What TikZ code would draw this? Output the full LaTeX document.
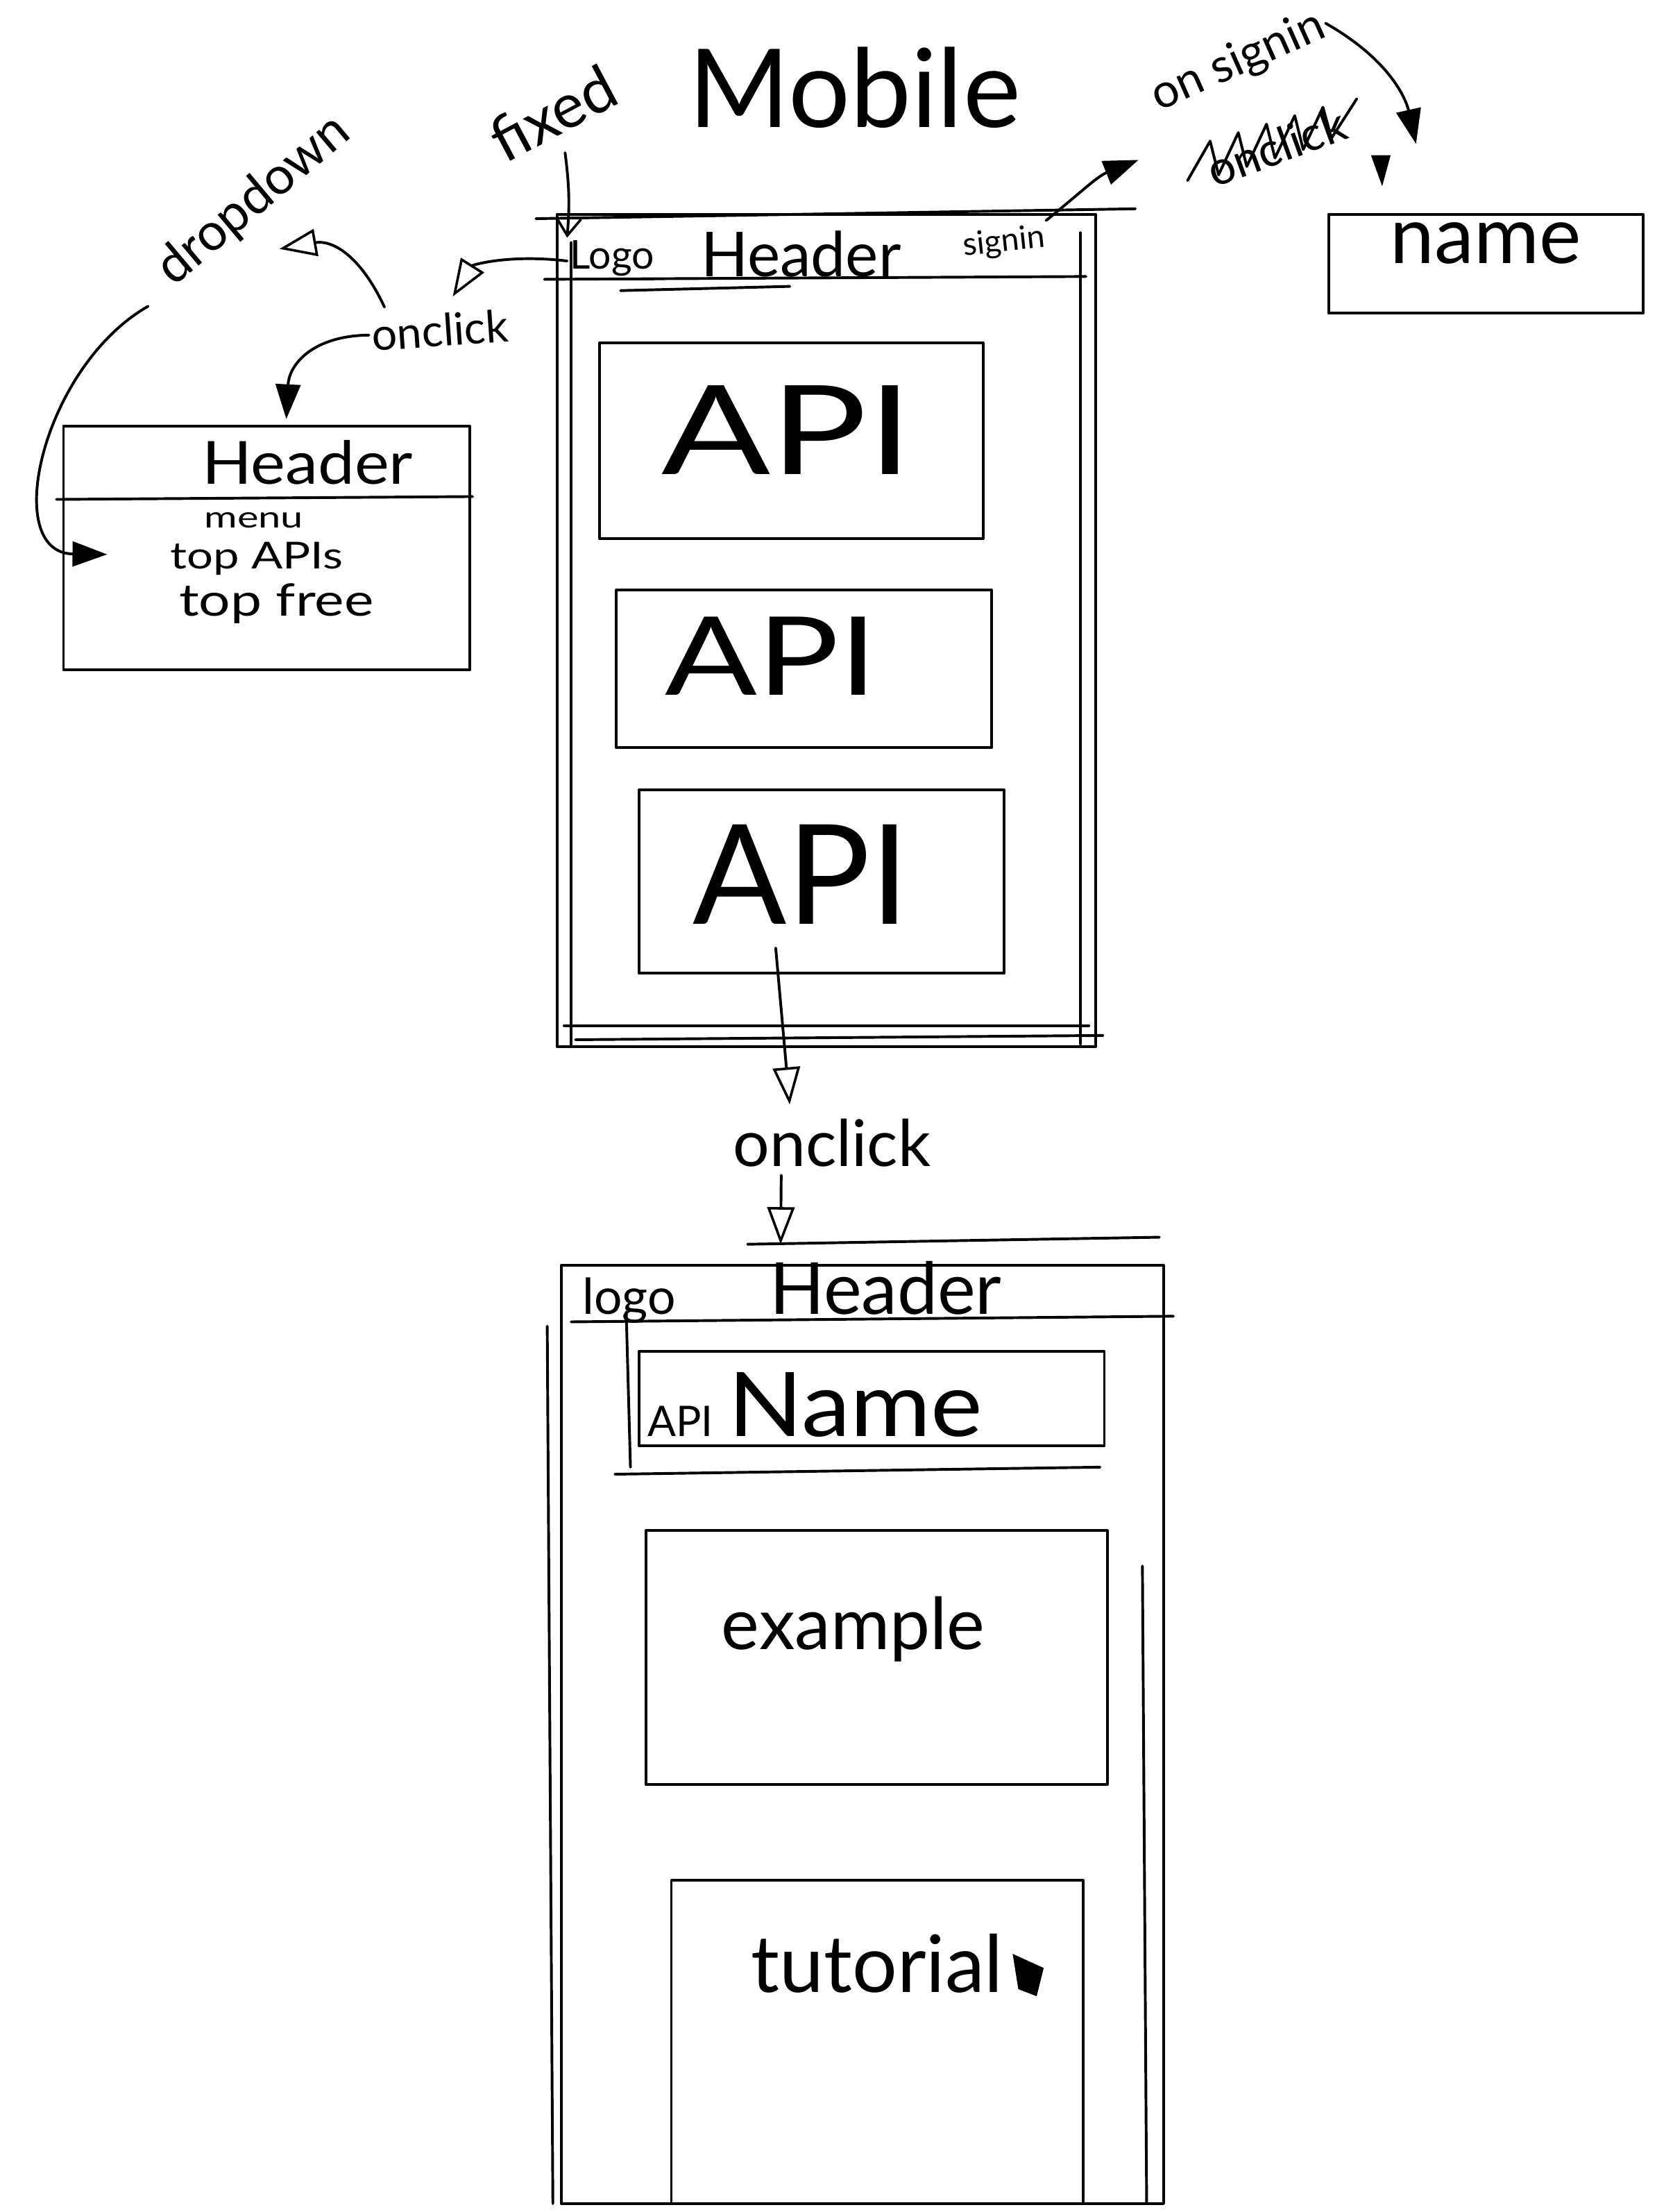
\documentclass[tikz,border=0pt]{standalone}
\usepackage{fontspec}
\setmainfont{Lato}
\usetikzlibrary{arrows.meta,fit,calc}

\newcommand\pensize[1]{\fontsize{#1}{#1}\selectfont}

\begin{document}
\begin{tikzpicture}[
  x=0.02cm, y=-0.02cm,
  pen/.style={line width=1.1pt, line cap=round, line join=round},
  frame/.style={pen, draw, inner sep=0pt},
  txt/.style={inner sep=1pt},
  opentip/.style={-{Triangle[open,length=15pt,width=11pt,line width=1pt]}},
  solidtip/.style={-{Triangle[length=14pt,width=10pt]}},
  barbtip/.style={-{Straight Barb[length=7pt,width=10pt,line width=1pt]}},
]
\useasboundingbox (0,0) rectangle (1186,1568);

% ---------- title and labels ----------
\node[txt, font=\pensize{44}] (title) at (606,62) {Mobile};
\node[txt, font=\pensize{25}, rotate=28] (fx) at (392,80) {fixed};
\node[txt, font=\pensize{21}, rotate=40] (dl) at (180,142) {dropdown};
\node[txt, font=\pensize{18}, rotate=4] (oc1) at (312,234) {onclick};
\node[txt, font=\pensize{19}, rotate=24] (os) at (878,44) {on signin};
\node[txt, font=\pensize{19}, rotate=20] (strk) at (905,104) {onclick};
\draw[pen] (842,128) -- (858,100) -- (864,124) -- (878,94) -- (884,118) -- (898,88)
           -- (904,112) -- (918,82) -- (924,106) -- (938,76) -- (944,98) -- (962,70);
\node[txt, font=\pensize{26}] (oc2) at (590,810) {onclick};

% ---------- main phone screen ----------
\node[frame, fit={(395,152) (777,742)}] (phone1) {};
\draw[pen] (380,155) -- (805,148);
\draw[pen] (405,172) -- (405,742);
\draw[pen] (766,165) -- (766,740);
\draw[pen] (386,198) -- (770,196);
\draw[pen] (440,206) -- (560,203);
\draw[pen] (400,727) -- (772,727);
\draw[pen] (408,737) -- (782,734);

\node[txt, font=\pensize{16}] (lg) at (434,185) {\underline{Logo}};
\node[txt, font=\pensize{25}] (hd1) at (568,180) {Header};
\node[txt, font=\pensize{13}, rotate=6] (sg) at (712,172) {signin};

\node[frame, fit={(425,243) (697,382)}] (api1) {};
\node[txt, font=\pensize{50}] (api1t) at (558,305) {\scalebox{1.3}[1]{API}};
\node[frame, fit={(437,418) (703,530)}] (api2) {};
\node[txt, font=\pensize{44}] (api2t) at (547,465) {\scalebox{1.25}[1]{API}};
\node[frame, fit={(453,560) (712,690)}] (api3) {};
\node[txt, font=\pensize{56}] (api3t) at (568,620) {API};

% ---------- dropdown menu ----------
\node[frame, fit={(45,302) (333,475)}] (dd) {};
\draw[pen] (40,354) -- (335,352);
\node[txt, font=\pensize{24}] (ddh) at (218,328) {\scalebox{1.1}[1]{Header}};
\node[txt, font=\pensize{12}] (mn) at (180,369) {\scalebox{1.35}[1]{menu}};
\node[txt, font=\pensize{15}] (tapi) at (182,396) {\scalebox{1.25}[1]{top APIs}};
\node[txt, font=\pensize{18}] (tfree) at (196,428) {\scalebox{1.25}[1]{top free}};

% ---------- signed-in name box ----------
\node[frame, fit={(942,152) (1165,222)}, font=\pensize{32}] (nmbox) {name};

% ---------- API detail screen ----------
\node[frame, fit={(398,897) (825,1562)}] (phone2) {};
\draw[pen] (530,882) -- (822,877);
\draw[pen] (405,937) -- (832,933);
\draw[pen] (388,940) -- (392,1562);
\draw[pen] (810,1110) -- (813,1562);
\node[txt, font=\pensize{20}] (lg2) at (446,922) {logo};
\node[txt, font=\pensize{29}] (hd2) at (628,913) {Header};

\node[frame, fit={(453,958) (783,1025)}] (namebox) {};
\draw[pen] (436,1045) -- (780,1040);
\draw[pen] (444,930) -- (447,1040);
\node[txt] (apiname) at (578,996) {{\pensize{17}API}\hspace{6pt}{\pensize{36}\scalebox{1.1}[1]{Name}}};

\node[frame, fit={(458,1085) (785,1265)}] (exbox) {};
\node[txt, font=\pensize{29}] (ex) at (605,1155) {example};

\node[frame, fit={(476,1333) (768,1562)}] (tubox) {};
\node[txt, font=\pensize{32}] (tu) at (622,1392) {tutorial};
\fill (718,1385) -- (740,1395) -- (735,1415) -- (722,1410) -- cycle;

% ---------- free ends of connectors ----------
\coordinate (menuin) at (76,393);
\coordinate (signtip) at (1004,102);
\coordinate (api3out) at (550,672);

% ---------- connectors ----------
\draw[pen, barbtip] ($(fx.south)+(0,12)$) to[bend left=6] (lg.north west);
\draw[pen, opentip] (lg.west) .. controls (360,180) and (335,188) .. ($(oc1.north)+(10,-10)$);
\draw[pen, opentip] ($(oc1.north west)+(12,-6)$) .. controls (255,180) and (235,170) .. ($(dl.south)+(6,20)$);
\draw[pen, solidtip] (oc1.west) .. controls (222,238) and (205,258) .. ($(dd.north)+(14,-4)$);
\draw[pen, solidtip] ($(dl.south west)+(-22,6)$) .. controls (30,260) and (0,392) .. (menuin);
\draw[pen, solidtip] (sg.north east) .. controls (768,135) and (778,125) .. ($(os.south west)+(-16,26)$);
\draw[pen, solidtip] (os.east) .. controls (990,45) and (998,75) .. (signtip);
\fill ($(signtip)+(-32,8)$) -- ($(signtip)+(-18,8)$) -- ($(signtip)+(-24,30)$) -- cycle;
\draw[pen, opentip] (api3out) -- ($(oc2.north west)+(42,-8)$);
\draw[pen, opentip] ($(oc2.south west)+(36,4)$) -- ($(phone2.north)+(-58,-14)$);
\end{tikzpicture}
\end{document}
